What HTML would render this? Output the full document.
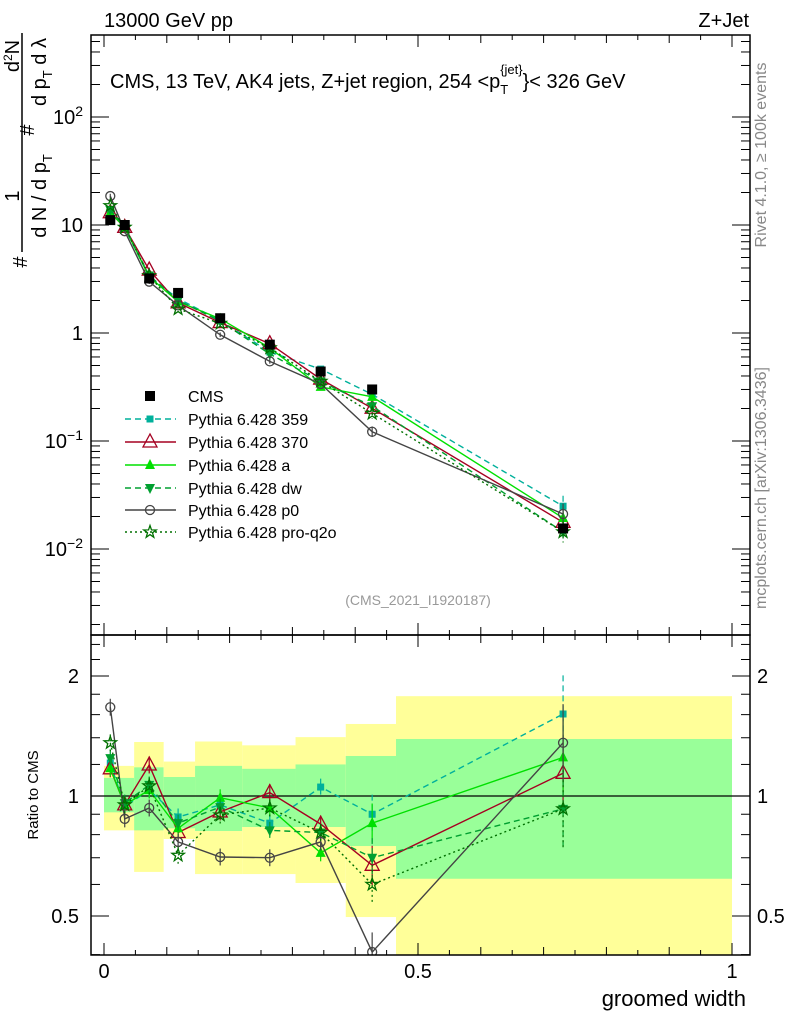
<!DOCTYPE html>
<html><head><meta charset="utf-8"><style>
html,body{margin:0;padding:0;background:#fff;}
svg{display:block;font-family:"Liberation Sans",sans-serif;}
</style></head><body>
<svg id="c" width="786" height="1024" viewBox="0 0 786 1024" xmlns="http://www.w3.org/2000/svg"></svg>
<script>
const xVals=[0.01,0.033,0.072,0.118,0.185,0.264,0.345,0.427,0.731];
const binEdges=[0,0.048,0.095,0.145,0.22,0.305,0.385,0.465,1.0];
const cmsVals=[11.1,10,3.2,2.35,1.37,0.78,0.44,0.30,0.0155];
const yellowHi=[1.19,1.366,1.22,1.37,1.34,1.405,1.516,1.78];
const yellowLo=[0.82,0.645,0.78,0.637,0.637,0.605,0.497,0.3];
const greenHi=[1.11,1.18,1.116,1.19,1.17,1.2,1.26,1.39];
const greenLo=[0.91,0.82,0.83,0.817,0.836,0.836,0.749,0.62];
const r359=[1.21,0.94,1.035,0.886,0.95,0.855,1.053,0.90,1.606];
const r370=[1.17,0.95,1.196,0.81,0.912,1.02,0.85,0.67,1.14];
const rA=[1.175,0.95,1.035,0.83,0.99,0.933,0.72,0.855,1.25];
const rDw=[1.245,0.96,1.066,0.855,0.938,0.82,0.81,0.70,0.928];
const rP0=[1.67,0.876,0.933,0.767,0.703,0.70,0.767,0.406,1.36];
const rQ2o=[1.36,0.95,1.06,0.71,0.896,0.933,0.81,0.60,0.928];
const legendLabels=["CMS","Pythia 6.428 359","Pythia 6.428 370","Pythia 6.428 a","Pythia 6.428 dw","Pythia 6.428 p0","Pythia 6.428 pro-q2o"];

const NS="http://www.w3.org/2000/svg";
const svg=document.getElementById('c');
function el(t,a,p){const e=document.createElementNS(NS,t);for(const k in a)e.setAttribute(k,a[k]);(p||svg).appendChild(e);return e;}
const L=91,R=750,T=35,B=635,RB=955;
const X=v=>104+v*628;
const Y=v=>117-(Math.log10(v)-2)*108;
const RY=v=>796-Math.log2(v)*120;

const defs=el('defs',{});
const c1=el('clipPath',{id:'cm'},defs);el('rect',{x:L,y:T,width:R-L,height:B-T},c1);
const c2=el('clipPath',{id:'cr'},defs);el('rect',{x:L,y:B,width:R-L,height:RB-B},c2);

const gBand=el('g',{'clip-path':'url(#cr)'});
for(let i=0;i<yellowHi.length;i++){
  const x0=X(binEdges[i]),x1=X(binEdges[i+1]);
  const y=el('rect',{x:x0,y:RY(yellowHi[i]),width:x1-x0,height:RY(yellowLo[i])-RY(yellowHi[i]),fill:'#ffff99'},gBand);
  
  
  const g=el('rect',{x:x0,y:RY(greenHi[i]),width:x1-x0,height:RY(greenLo[i])-RY(greenHi[i]),fill:'#99ff99'},gBand);
  
  
}
el('line',{x1:L,x2:R,y1:RY(1),y2:RY(1),stroke:'#000','stroke-width':1.2});

const series=[
 {r:r359,col:'#00b09b',dash:'6,4',m:'sq',n:'series-359'},
 {r:r370,col:'#a50021',dash:'',m:'tri',n:'series-370'},
 {r:rA,col:'#00e000',dash:'',m:'ftri',n:'series-a'},
 {r:rDw,col:'#00a030',dash:'6,4',m:'dtri',n:'series-dw'},
 {r:rP0,col:'#444',dash:'',m:'circ',n:'series-p0'},
 {r:rQ2o,col:'#007000',dash:'2,3',m:'star',n:'series-pro-q2o'}
];
function marker(g,m,x,y,col){
  if(m==='sq')el('rect',{x:x-3.5,y:y-3.5,width:7,height:7,fill:col},g);
  else if(m==='tri')el('polygon',{points:`${x},${y-8} ${x-7},${y+5} ${x+7},${y+5}`,fill:'none',stroke:col,'stroke-width':1.3},g);
  else if(m==='ftri')el('polygon',{points:`${x},${y-6} ${x-5},${y+4} ${x+5},${y+4}`,fill:col},g);
  else if(m==='dtri')el('polygon',{points:`${x},${y+6} ${x-5},${y-4} ${x+5},${y-4}`,fill:col},g);
  else if(m==='circ')el('circle',{cx:x,cy:y,r:4.5,fill:'none',stroke:col,'stroke-width':1.3},g);
  else if(m==='star'){let p=[];for(let k=0;k<10;k++){const rr=k%2?2.6:6.5,a=-Math.PI/2+k*Math.PI/5;p.push((x+rr*Math.cos(a)).toFixed(1)+','+(y+rr*Math.sin(a)).toFixed(1));}el('polygon',{points:p.join(' '),fill:'none',stroke:col,'stroke-width':1.3},g);}
  else if(m==='cms')el('rect',{x:x-5,y:y-5,width:10,height:10,fill:'#000'},g);
}
function drawSeries(s,yf,clip,main){
  const g=el('g',{'clip-path':`url(#${clip})`});
  
  
  const vals=s.r.map((r,i)=>main?r*cmsVals[i]:r);
  const pts=vals.map((v,i)=>X(xVals[i]).toFixed(1)+','+yf(v).toFixed(1)).join(' ');
  el('polyline',{points:pts,fill:'none',stroke:s.col,'stroke-width':1.4,'stroke-dasharray':s.dash},g);
  vals.forEach((v,i)=>{
    const x=X(xVals[i]),e=(i===8?0.25:i===7?0.12:0.05);
    el('line',{x1:x,x2:x,y1:yf(v*(1+e)),y2:yf(v/(1+e)),stroke:s.col,'stroke-width':1.2,'stroke-dasharray':s.dash},g);
    marker(g,s.m,x,yf(v),s.col);
  });
}
series.forEach(s=>{drawSeries(s,Y,'cm',true);drawSeries(s,RY,'cr',false);});
const gc=el('g',{});


cmsVals.forEach((v,i)=>marker(gc,'cms',X(xVals[i]),Y(v)));

el('rect',{x:L,y:T,width:R-L,height:B-T,fill:'none',stroke:'#000','stroke-width':1.5});
el('rect',{x:L,y:B,width:R-L,height:RB-B,fill:'none',stroke:'#000','stroke-width':1.5});

for(let k=0;k<=20;k++){const v=k*0.05,x=X(v),big=k%10===0,len=big?12:(k%2===0?8:5);
  [[T,1],[B,-1],[B,1],[RB,-1]].forEach(([y0,d])=>el('line',{x1:x,x2:x,y1:y0,y2:y0+d*len,stroke:'#000','stroke-width':1}));}
[[0,'0'],[0.5,'0.5'],[1,'1']].forEach(([v,t])=>{const e=el('text',{x:X(v),y:978,'font-size':20,'text-anchor':'middle'});e.textContent=t;
  
  });
for(let d=-3;d<=2;d++){for(let m=1;m<10;m++){const v=m*Math.pow(10,d),y=Y(v);if(y<T||y>B)continue;const len=m===1?18:9;
  el('line',{x1:L,x2:L+len,y1:y,y2:y,stroke:'#000'});el('line',{x1:R,x2:R-len,y1:y,y2:y,stroke:'#000'});}}
function ylab(y,html){const e=el('text',{x:83,y:y+7,'font-size':20,'text-anchor':'end'});e.innerHTML=html;}
ylab(Y(100),'10<tspan dy="-8" font-size="14">2</tspan>');ylab(Y(10),'10');ylab(Y(1),'1');
ylab(Y(0.1),'10<tspan dy="-8" font-size="14">−1</tspan>');ylab(Y(0.01),'10<tspan dy="-8" font-size="14">−2</tspan>');
[0.4,0.5,0.6,0.7,0.8,0.9,1,1.2,1.4,1.6,1.8,2,2.2,2.4].forEach(v=>{const y=RY(v);const len=(v===0.5||v===1||v===2)?18:9;
  el('line',{x1:L,x2:L+len,y1:y,y2:y,stroke:'#000'});el('line',{x1:R,x2:R-len,y1:y,y2:y,stroke:'#000'});});
[[0.5,'0.5'],[1,'1'],[2,'2']].forEach(([v,t])=>{const a=el('text',{x:79,y:RY(v)+7,'font-size':20,'text-anchor':'end'});a.textContent=t;
  
  const b=el('text',{x:757,y:RY(v)+7,'font-size':20});b.textContent=t;
  });

function txt(x,y,s,attrs,name){const e=el('text',Object.assign({x:x,y:y},attrs));e.innerHTML=s;return e;}
txt(104,27,'13000 GeV pp',{'font-size':20},'header-left');
txt(749,27,'Z+Jet',{'font-size':20,'text-anchor':'end'},'header-right');
txt(110,88,'CMS, 13 TeV, AK4 jets, Z+jet region, 254 &lt;p<tspan dy="6" font-size="13">T</tspan><tspan dy="-20" font-size="13" dx="-8">{jet}</tspan><tspan dy="14">}&lt; 326 GeV</tspan>',{'font-size':20},'plot-title');
txt(418,605,'(CMS_2021_I1920187)',{'font-size':14,'text-anchor':'middle',fill:'#999'},'analysis-id');
txt(0,0,'Rivet 4.1.0, ≥ 100k events',{'font-size':16,fill:'#888','text-anchor':'middle',transform:'translate(766,155) rotate(-90)'},'rivet-label');
txt(0,0,'mcplots.cern.ch [arXiv:1306.3436]',{'font-size':16,fill:'#888','text-anchor':'middle',transform:'translate(766,488) rotate(-90)'},'mcplots-label');
txt(746,1006,'groomed width',{'font-size':22,'text-anchor':'end'},'x-axis-title');
txt(0,0,'Ratio to CMS',{'font-size':15,'text-anchor':'middle',transform:'translate(38,795) rotate(-90)'},'ratio-axis-title');
// y axis title
txt(0,0,'#',{'font-size':20,'text-anchor':'middle',transform:'translate(27,262) rotate(-90)'},'y-title-hash');
el('line',{x1:22,x2:22,y1:252,y2:33,stroke:'#000','stroke-width':1.5});
txt(0,0,'1',{'font-size':20,'text-anchor':'middle',transform:'translate(19,196) rotate(-90)'},'y-title-num');
txt(0,0,'d N / d p<tspan dy="6" font-size="13">T</tspan>',{'font-size':20,'text-anchor':'middle',transform:'translate(46,196) rotate(-90)'},'y-title-den');
txt(0,0,'#',{'font-size':20,'text-anchor':'middle',transform:'translate(34,130) rotate(-90)'},'y-title-hash2');
txt(0,0,'d<tspan dy="-7" font-size="12">2</tspan><tspan dy="7">N</tspan>',{'font-size':20,'text-anchor':'middle',transform:'translate(19,56) rotate(-90)'},'y-title-num2');
txt(0,0,'d p<tspan dy="6" font-size="13">T</tspan><tspan dy="-6">  d λ</tspan>',{'font-size':20,'text-anchor':'middle',transform:'translate(46,72) rotate(-90)'},'y-title-den2');

const lg=el('g',{});


const ly=[396,419,442,465,488,510,532];
legendLabels.forEach((lab,i)=>{
  const y=ly[i];
  if(i===0)marker(lg,'cms',150,y);
  else{const s=series[i-1];el('line',{x1:125,x2:176,y1:y,y2:y,stroke:s.col,'stroke-width':1.4,'stroke-dasharray':s.dash},lg);marker(lg,s.m,150,y,s.col);}
  const t=el('text',{x:188,y:y+6,'font-size':16},lg);t.textContent=lab;
  
  
});
</script>
</body></html>
